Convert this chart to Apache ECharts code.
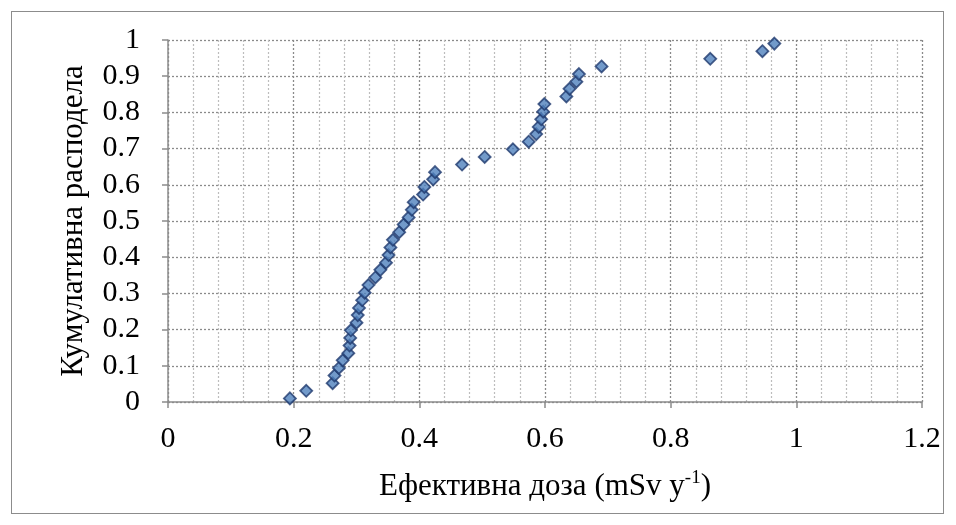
<!DOCTYPE html>
<html>
<head>
<meta charset="utf-8">
<script src="https://cdn.jsdelivr.net/npm/echarts@6/dist/echarts.min.js"></script>
<style>
  html, body { margin: 0; padding: 0; background: #fff; }
  #frame { position: absolute; left: 11px; top: 11px; width: 933px; height: 503px; border: 1.5px solid #8c8c8c; box-sizing: border-box; }
  #chart { position: absolute; left: 0; top: 0; width: 956px; height: 525px; }
</style>
</head>
<body>
<div id="frame"></div>
<div id="chart"></div>
<script>
// Effective dose (mSv/y), sorted ascending
const doseValues = [
  0.194, 0.220, 0.262, 0.265, 0.272, 0.278, 0.287, 0.289, 0.290, 0.291,
  0.300, 0.302, 0.304, 0.309, 0.313, 0.319, 0.330, 0.338, 0.347, 0.351,
  0.354, 0.358, 0.368, 0.375, 0.383, 0.388, 0.391, 0.406, 0.408, 0.422,
  0.425, 0.468, 0.504, 0.549, 0.574, 0.586, 0.590, 0.594, 0.597, 0.599,
  0.634, 0.639, 0.650, 0.654, 0.690, 0.863, 0.946, 0.965
];
// Cumulative distribution for each sorted dose
const cumulativeValues = [
  0.010, 0.031, 0.052, 0.073, 0.094, 0.115, 0.135, 0.156, 0.177, 0.198,
  0.219, 0.240, 0.260, 0.281, 0.302, 0.323, 0.344, 0.365, 0.385, 0.406,
  0.427, 0.448, 0.469, 0.490, 0.510, 0.531, 0.552, 0.573, 0.594, 0.615,
  0.635, 0.656, 0.677, 0.698, 0.719, 0.740, 0.760, 0.781, 0.802, 0.823,
  0.844, 0.865, 0.885, 0.906, 0.927, 0.948, 0.969, 0.990
];
const xTitle = 'Ефективна доза (mSv y';
const yTitle = 'Кумулативна расподела';

const points = doseValues.map((d, i) => [d, cumulativeValues[i]]);
const serif = '"Liberation Serif", "Times New Roman", serif';

const chart = echarts.init(document.getElementById('chart'), null, { renderer: 'canvas' });
chart.setOption({
  animation: false,
  backgroundColor: 'transparent',
  grid: { left: 168, top: 40, right: 34, bottom: 123 },
  xAxis: {
    type: 'value', min: 0, max: 1.2, interval: 0.2,
    name: '{t|' + xTitle + '}{s|-1}{t|)}',
    nameLocation: 'middle', nameGap: 67,
    nameTextStyle: {
      rich: {
        t: { fontFamily: serif, fontSize: 31, color: '#000', lineHeight: 36 },
        s: { fontFamily: serif, fontSize: 19, color: '#000', lineHeight: 36, verticalAlign: 'top' }
      }
    },
    axisLine: { show: true, lineStyle: { color: '#8c8c8c', width: 1.5 } },
    axisTick: { show: true, inside: false, length: 6, lineStyle: { color: '#8c8c8c', width: 1.5 } },
    axisLabel: {
      margin: 22, fontFamily: serif, fontSize: 30, color: '#000',
      formatter: v => String(+v.toFixed(1))
    },
    splitLine: { show: true, lineStyle: { color: '#8a8a8a', type: [2, 2], width: 1.3 } },
    minorTick: { show: false, splitNumber: 5 },
    minorSplitLine: { show: true, lineStyle: { color: '#bdbdbd', type: [2, 2], width: 1.2 } }
  },
  yAxis: {
    type: 'value', min: 0, max: 1, interval: 0.1,
    name: yTitle,
    nameLocation: 'middle', nameGap: 70, nameRotate: 90,
    nameTextStyle: { fontFamily: serif, fontSize: 31, color: '#000', lineHeight: 36 },
    axisLine: { show: true, lineStyle: { color: '#8c8c8c', width: 1.5 } },
    axisTick: { show: true, inside: false, length: 6, lineStyle: { color: '#8c8c8c', width: 1.5 } },
    axisLabel: {
      margin: 28, fontFamily: serif, fontSize: 30, color: '#000',
      formatter: v => String(+v.toFixed(1))
    },
    splitLine: { show: true, lineStyle: { color: '#8a8a8a', type: [2, 2], width: 1.3 } }
  },
  series: [{
    type: 'scatter',
    data: points,
    symbol: 'diamond',
    symbolSize: [12, 12],
    itemStyle: { color: '#4f81bd', borderColor: '#1f3a6e', borderWidth: 1.8 }
  }]
});
</script>
</body>
</html>
